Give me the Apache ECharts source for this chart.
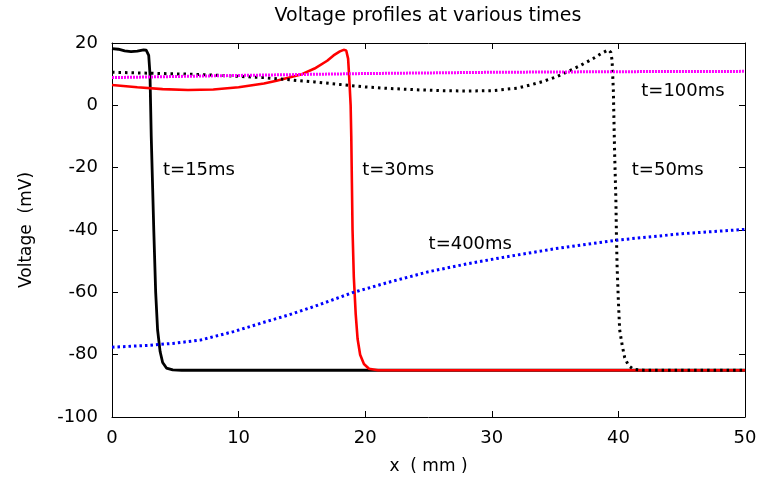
<!DOCTYPE html>
<html>
<head>
<meta charset="utf-8">
<script src="https://cdn.jsdelivr.net/npm/echarts@6/dist/echarts.min.js"></script>
<style>html,body{margin:0;padding:0;background:#fff;}#c{width:760px;height:481px;}</style>
</head>
<body>
<div id="c"></div>
<script>
// t = 15 ms (black solid)
var x15 = [0, 0.5, 1, 1.5, 2, 2.5, 2.7, 2.9, 3.0, 3.05, 3.1, 3.2, 3.3, 3.45, 3.6, 3.8, 4.0, 4.3, 4.8, 5.5, 10, 20, 30, 40, 50];
var v15 = [18.2, 18.0, 17.5, 17.2, 17.4, 17.8, 17.7, 16, 10, 0, -10, -25, -40, -60, -72, -79, -82.5, -84.3, -84.9, -85, -85, -85, -85, -85, -85];

// t = 30 ms (red solid)
var x30 = [0, 2, 4, 6, 8, 10, 12, 13, 14, 15, 16, 17, 17.5, 18, 18.3, 18.5, 18.65, 18.75, 18.85, 18.9, 18.95, 19.0, 19.1, 19.25, 19.4, 19.6, 19.9, 20.3, 21, 30, 40, 50];
var v30 = [6.5, 5.8, 5.2, 4.9, 5.1, 5.8, 7.0, 7.9, 8.9, 10.0, 11.8, 14.3, 16.0, 17.3, 17.8, 17.6, 15, 8, 0, -10, -25, -40, -55, -67, -75, -80, -83, -84.5, -85, -85, -85, -85];

// t = 50 ms (black dotted)
var x50 = [0, 2, 4, 6, 8, 10, 12, 14, 16, 18, 20, 22, 24, 26, 28, 30, 32, 33, 34, 35, 36, 37, 38, 38.6, 39.2, 39.4, 39.5, 39.6, 39.65, 39.7, 39.8, 39.85, 39.9, 40.0, 40.1, 40.3, 40.5, 40.8, 41.2, 42, 50];
var v50 = [10.6, 10.4, 10.2, 10.0, 9.7, 9.3, 8.9, 8.2, 7.5, 6.7, 5.9, 5.4, 5.0, 4.7, 4.6, 4.7, 5.5, 6.5, 7.6, 9.0, 10.8, 12.8, 15.0, 16.5, 17.8, 17.0, 14.5, 5, -5, -15, -30, -43, -52, -63, -72, -77, -81, -83.5, -84.7, -85, -85];

// t = 100 ms (magenta dotted)
var x100 = [0, 10, 20, 30, 40, 50];
var v100 = [8.9, 9.6, 10.2, 10.6, 10.8, 10.9];

// t = 400 ms (blue dotted)
var x400 = [0, 3, 5, 7, 9.6, 12, 14, 16, 19, 22, 25, 28, 31, 35, 40, 45, 50];
var v400 = [-77.6, -77.0, -76.3, -75.3, -72.6, -69.6, -67.2, -64.5, -60.1, -56.6, -53.4, -50.9, -48.7, -46.0, -43.2, -41.2, -39.8];

// curve annotations
var labelText = ['t=15ms', 't=30ms', 't=50ms', 't=100ms', 't=400ms'];
var labelX = [6.87, 22.6, 43.9, 45.1, 28.3];
var labelY = [-21, -21, -21, 4.4, -44.6];

var xTicks = [0, 10, 20, 30, 40, 50];
var yTicks = [-100, -80, -60, -40, -20, 0, 20];

function pairs(xs, ys) { return xs.map(function (x, i) { return [x, ys[i]]; }); }

var FONT = 'DejaVu Sans';
var chart = echarts.init(document.getElementById('c'), null, { renderer: 'canvas' });

var axisCommon = {
  type: 'value',
  axisLine: { show: true, onZero: false, lineStyle: { color: '#000', width: 1 } },
  axisTick: { show: true, inside: true, length: 6, lineStyle: { color: '#000' } },
  splitLine: { show: false }
};

chart.setOption({
  animation: false,
  backgroundColor: '#fff',
  title: {
    text: 'Voltage profiles at various times',
    left: 423, top: 2, textAlign: 'center',
    textStyle: { fontFamily: FONT, fontSize: 19, fontWeight: 'normal', color: '#000' }
  },
  grid: { left: 112, right: 15, top: 43, bottom: 64 },
  xAxis: [
    Object.assign({}, axisCommon, {
      position: 'bottom', min: xTicks[0], max: xTicks[xTicks.length - 1], interval: 10,
      name: 'x  ( mm )', nameLocation: 'middle', nameGap: 41,
      nameTextStyle: { fontFamily: FONT, fontSize: 17, color: '#000' },
      axisLabel: { fontFamily: FONT, fontSize: 18, color: '#000', margin: 12 }
    }),
    Object.assign({}, axisCommon, {
      position: 'top', min: xTicks[0], max: xTicks[xTicks.length - 1], interval: 10,
      axisLabel: { show: false }
    })
  ],
  yAxis: [
    Object.assign({}, axisCommon, {
      position: 'left', min: yTicks[0], max: yTicks[yTicks.length - 1], interval: 20,
      name: 'Voltage  (mV)', nameLocation: 'middle', nameGap: 77, nameRotate: 90,
      nameTextStyle: { fontFamily: FONT, fontSize: 17, color: '#000' },
      axisLabel: { fontFamily: FONT, fontSize: 18, color: '#000', margin: 14 }
    }),
    Object.assign({}, axisCommon, {
      position: 'right', min: yTicks[0], max: yTicks[yTicks.length - 1], interval: 20,
      axisLabel: { show: false }
    })
  ],
  series: [
    { type: 'line', name: 't=15ms', data: pairs(x15, v15), showSymbol: false, symbol: 'none',
      lineStyle: { color: '#000', width: 2.8 }, z: 2 },
    { type: 'line', name: 't=30ms', data: pairs(x30, v30), showSymbol: false, symbol: 'none',
      lineStyle: { color: '#ff0000', width: 2.6 }, z: 3 },
    { type: 'line', name: 't=50ms', data: pairs(x50, v50), showSymbol: false, symbol: 'none',
      lineStyle: { color: '#000', width: 3, type: [2.5, 4] }, z: 4 },
    { type: 'line', name: 't=100ms', data: pairs(x100, v100), showSymbol: false, symbol: 'none',
      lineStyle: { color: '#ff00ff', width: 3, type: [2, 1] }, z: 5 },
    { type: 'line', name: 't=400ms', data: pairs(x400, v400), showSymbol: false, symbol: 'none',
      lineStyle: { color: '#0000ff', width: 3, type: [2.5, 3] }, z: 6 },
    { type: 'scatter', symbolSize: 0, z: 10, silent: true,
      itemStyle: { color: '#000', opacity: 1 },
      data: labelText.map(function (t, i) { return { name: t, value: [labelX[i], labelY[i]] }; }),
      label: { show: true, position: 'inside', formatter: '{b}', opacity: 1,
        fontFamily: FONT, fontSize: 18, color: '#000', textBorderWidth: 0, textShadowBlur: 0 } }
  ]
});
</script>
</body>
</html>
